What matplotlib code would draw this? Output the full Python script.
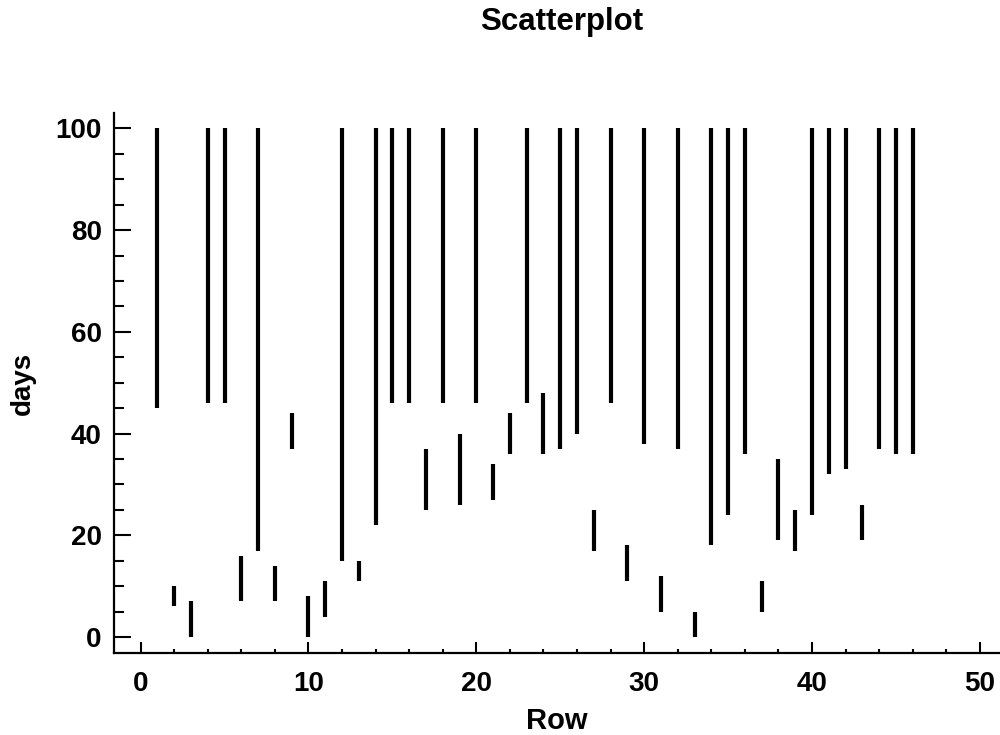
import matplotlib
matplotlib.use("Agg")
import matplotlib.pyplot as plt
from matplotlib.ticker import MultipleLocator

# data: one vertical segment per row
rows = list(range(1, 47))
low_days = [45, 6, 0, 46, 46, 7, 17, 7, 37, 0,
            4, 15, 11, 22, 46, 46, 25, 46, 26, 46,
            27, 36, 46, 36, 37, 40, 17, 46, 11, 38,
            5, 37, 0, 18, 24, 36, 5, 19, 17, 24,
            32, 33, 19, 37, 36, 36]
high_days = [100, 10, 7, 100, 100, 16, 100, 14, 44, 8,
             11, 100, 15, 100, 100, 100, 37, 100, 40, 100,
             34, 44, 100, 48, 100, 100, 25, 100, 18, 100,
             12, 100, 5, 100, 100, 100, 11, 35, 25, 100,
             100, 100, 26, 100, 100, 100]
x_ticks = [0, 10, 20, 30, 40, 50]
y_ticks = [0, 20, 40, 60, 80, 100]

plt.rcParams["font.family"] = ["Liberation Sans", "DejaVu Sans"]
plt.rcParams["font.weight"] = "bold"

fig = plt.figure(figsize=(10, 7.35), dpi=100)
ax = fig.add_axes([0.1143, 0.1112, 0.8857, 0.7355])

ax.vlines(rows, low_days, high_days, colors="black", linewidth=3, capstyle="butt")

ax.set_xlim(-1.57, 51.2)
ax.set_ylim(-3.2, 103.1)
ax.set_xticks(x_ticks)
ax.set_yticks(y_ticks)
ax.xaxis.set_minor_locator(MultipleLocator(2))
ax.yaxis.set_minor_locator(MultipleLocator(5))

for side in ["top", "right"]:
    ax.spines[side].set_visible(False)
for side in ["left", "bottom"]:
    ax.spines[side].set_linewidth(1.6)

ax.tick_params(axis="x", which="major", direction="in", length=7.8, width=1.5,
               labelsize=20, pad=13)
ax.tick_params(axis="x", which="minor", direction="in", length=2.8, width=1.5)
ax.tick_params(axis="y", which="major", direction="in", length=12, width=1.5,
               labelsize=20, pad=9)
ax.tick_params(axis="y", which="minor", direction="in", length=7, width=1.5)

ax.set_xlabel("Row", fontsize=21, fontweight="bold", labelpad=7)
ax.set_ylabel("days", fontsize=20, fontweight="bold", labelpad=14)

fig.text(0.562, 0.959, "Scatterplot", ha="center", va="baseline",
         fontsize=22.5, fontweight="bold")

fig.savefig("out.png", dpi=100)
